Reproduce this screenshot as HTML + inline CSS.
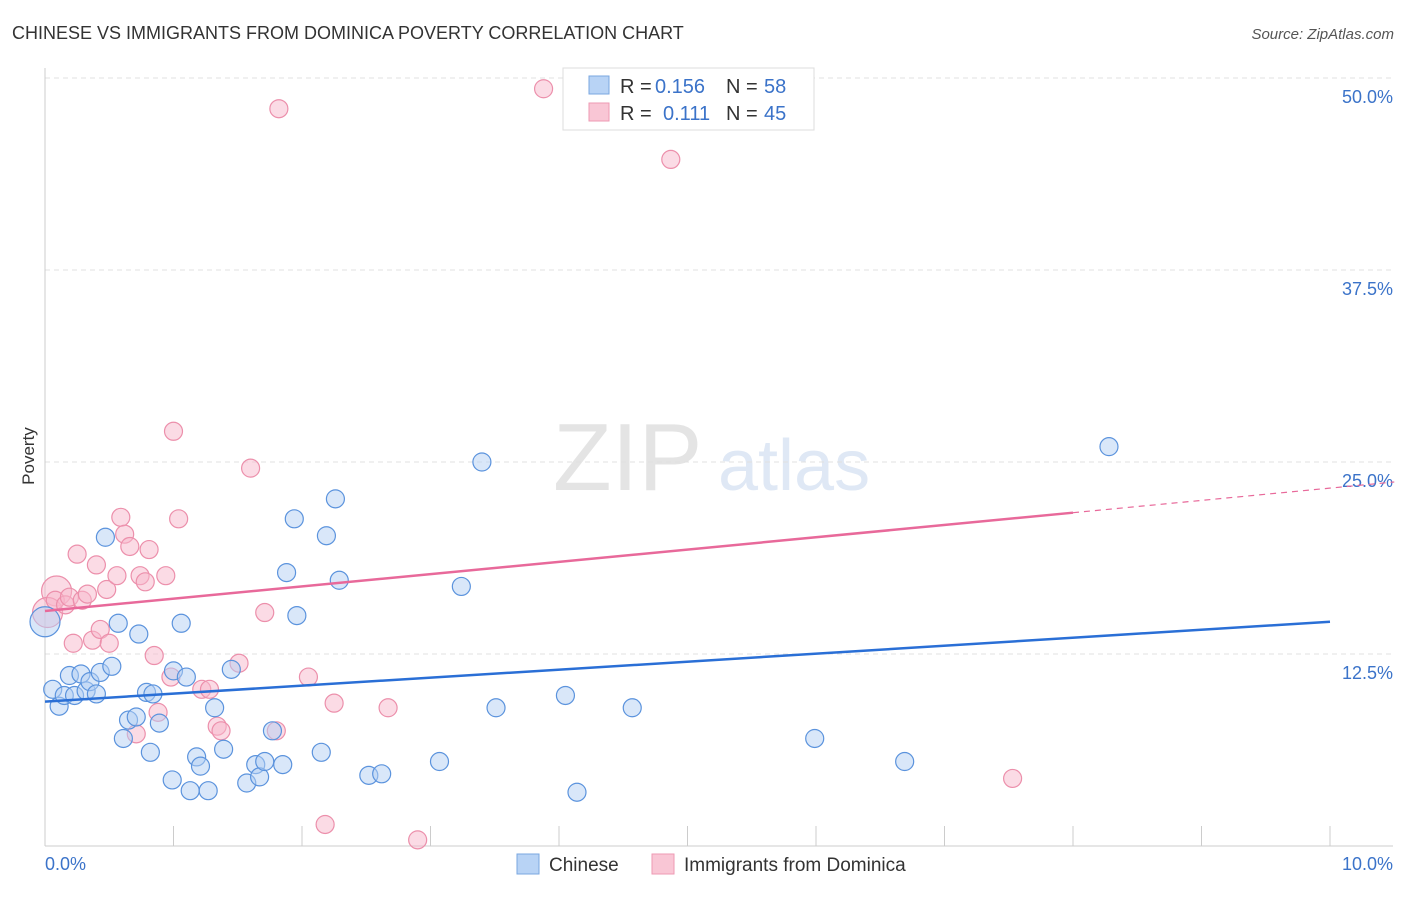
<!DOCTYPE html>
<html><head><meta charset="utf-8"><style>
body{margin:0;background:#fff;font-family:"Liberation Sans",sans-serif}
svg text{font-family:"Liberation Sans",sans-serif}
</style></head><body>
<svg id="chart" width="1406" height="892" xmlns="http://www.w3.org/2000/svg">
<text x="12" y="39" font-size="18" fill="#333">CHINESE VS IMMIGRANTS FROM DOMINICA POVERTY CORRELATION CHART</text>
<text x="1394" y="39" font-size="15" fill="#555" font-style="italic" text-anchor="end">Source: ZipAtlas.com</text>
<g><text x="553" y="490" font-size="96" fill="#e4e4e4" font-family="Liberation Serif">ZIP</text><text x="718" y="490" font-size="72" fill="#dfe8f5">atlas</text></g>
<g id="grid"></g>
<g id="axes"></g>
<g id="marks"></g>
<text x="34" y="456" font-size="17" fill="#333" transform="rotate(-90 34 456)" text-anchor="middle">Poverty</text>
<g>
<rect x="563" y="68" width="251" height="62" fill="#fff" stroke="#ddd"/>
<rect x="589" y="76" width="20" height="18" fill="#b8d3f5" stroke="#7aa7e0"/>
<rect x="589" y="103" width="20" height="18" fill="#f9c6d5" stroke="#ee9ab3"/>
<text x="620" y="93" font-size="20" fill="#333">R =</text>
<text x="655" y="93" font-size="20" fill="#3b73c9">0.156</text>
<text x="726" y="93" font-size="20" fill="#333">N =</text>
<text x="764" y="93" font-size="20" fill="#3b73c9">58</text>
<text x="620" y="120" font-size="20" fill="#333">R =</text>
<text x="663" y="120" font-size="20" fill="#3b73c9">0.111</text>
<text x="726" y="120" font-size="20" fill="#333">N =</text>
<text x="764" y="120" font-size="20" fill="#3b73c9">45</text>
</g>
<g>
<rect x="517" y="854" width="22" height="20" fill="#b8d3f5" stroke="#7aa7e0"/>
<text x="549" y="871" font-size="19" fill="#333">Chinese</text>
<rect x="652" y="854" width="22" height="20" fill="#f9c6d5" stroke="#ee9ab3"/>
<text x="684" y="871" font-size="19" fill="#333">Immigrants from Dominica</text>
</g>
</svg>
<script>
const yTicks=[12.5,25,37.5,50];
const yTickLabels=["12.5%","25.0%","37.5%","50.0%"];
const xTickVals=[0,1,2,3,4,5,6,7,8,9,10];
const xLabels=["0.0%","10.0%"];
const chineseX=[0,0.06,0.11,0.15,0.19,0.23,0.28,0.32,0.35,0.4,0.43,0.47,0.52,0.57,0.61,0.65,0.71,0.73,0.79,0.82,0.84,0.89,0.99,1.0,1.06,1.1,1.13,1.18,1.21,1.27,1.32,1.39,1.45,1.57,1.64,1.67,1.71,1.77,1.85,1.88,1.94,1.96,2.15,2.19,2.26,2.29,2.52,2.62,3.07,3.24,3.4,3.51,4.05,4.14,4.57,5.99,6.69,8.28];
const chineseY=[14.6,10.2,9.1,9.8,11.1,9.8,11.2,10.1,10.7,9.9,11.3,20.1,11.7,14.5,7.0,8.2,8.4,13.8,10.0,6.1,9.9,8.0,4.3,11.4,14.5,11.0,3.6,5.8,5.2,3.6,9.0,6.3,11.5,4.1,5.3,4.5,5.5,7.5,5.3,17.8,21.3,15.0,6.1,20.2,22.6,17.3,4.6,4.7,5.5,16.9,25.0,9.0,9.8,3.5,9.0,7.0,5.5,26.0];
const domX=[0.09,0.02,0.08,0.16,0.19,0.25,0.29,0.33,0.22,0.37,0.4,0.43,0.48,0.5,0.56,0.59,0.62,0.66,0.71,0.74,0.78,0.81,0.85,0.88,0.94,0.98,1.0,1.04,1.22,1.28,1.34,1.37,1.51,1.6,1.71,1.8,1.82,2.05,2.18,2.25,2.67,2.9,3.88,4.87,7.53];
const domY=[16.6,15.2,16.0,15.7,16.2,19.0,16.0,16.4,13.2,13.4,18.3,14.1,16.7,13.2,17.6,21.4,20.3,19.5,7.3,17.6,17.2,19.3,12.4,8.7,17.6,11.0,27.0,21.3,10.2,10.2,7.8,7.5,11.9,24.6,15.2,7.5,48.0,11.0,1.4,9.3,9.0,0.4,49.3,44.7,4.4];
const blueLine=[9.4,14.6];
const pinkLine=[15.3,21.7,8.0];
const ns="http://www.w3.org/2000/svg";
const X=v=>45+v/10*1285, Y=v=>846-v/12.5*192;
function mk(t,a,p){const e=document.createElementNS(ns,t);for(const k in a)e.setAttribute(k,a[k]);document.getElementById(p).appendChild(e);return e;}
yTicks.forEach((t,i)=>{
 const l=mk('line',{x1:45,x2:1393,y1:Y(t),y2:Y(t),stroke:'#e0e0e0','stroke-dasharray':'5,4'},'grid');
 
 
 const tx=mk('text',{x:1393,y:Y(t)+25,'font-size':18,fill:'#3b73c9','text-anchor':'end'},'grid');
 tx.textContent=yTickLabels[i];
 
 
});
let a=mk('line',{x1:45,x2:45,y1:68,y2:846,stroke:'#ccc'},'axes');


a=mk('line',{x1:45,x2:1393,y1:846,y2:846,stroke:'#ccc'},'axes');


xTickVals.forEach(v=>{const t=mk('line',{x1:X(v),x2:X(v),y1:826,y2:846,stroke:'#ccc'},'axes');
 
 });
let t1=mk('text',{x:45,y:870,'font-size':18,fill:'#3b73c9'},'axes');t1.textContent=xLabels[0];


t1=mk('text',{x:1393,y:870,'font-size':18,fill:'#3b73c9','text-anchor':'end'},'axes');t1.textContent=xLabels[1];


function pts(xs,ys,fill,stroke,name,bigIdx){xs.forEach((x,i)=>{const c=mk('circle',{cx:X(x),cy:Y(ys[i]),r:bigIdx.includes(i)?15:9,fill:fill,'fill-opacity':0.5,stroke:stroke,'stroke-width':1.2},'marks');
 
 });}
pts(domX,domY,'#f7b8cb','#ec8fab','dominica-point',[0,1]);
pts(chineseX,chineseY,'#b3cff3','#5b93dd','chinese-point',[0]);
let ln=mk('line',{x1:X(0),y1:Y(blueLine[0]),x2:X(10),y2:Y(blueLine[1]),stroke:'#2a6fd6','stroke-width':2.5},'marks');


const ps=(pinkLine[1]-pinkLine[0])/pinkLine[2];
ln=mk('line',{x1:X(0),y1:Y(pinkLine[0]),x2:X(pinkLine[2]),y2:Y(pinkLine[1]),stroke:'#e8699a','stroke-width':2.5},'marks');


ln=mk('line',{x1:X(pinkLine[2]),y1:Y(pinkLine[1]),x2:X(10.5),y2:Y(pinkLine[0]+ps*10.5),stroke:'#e8699a','stroke-width':1.2,'stroke-dasharray':'6,5'},'marks');


</script>
</body></html>
